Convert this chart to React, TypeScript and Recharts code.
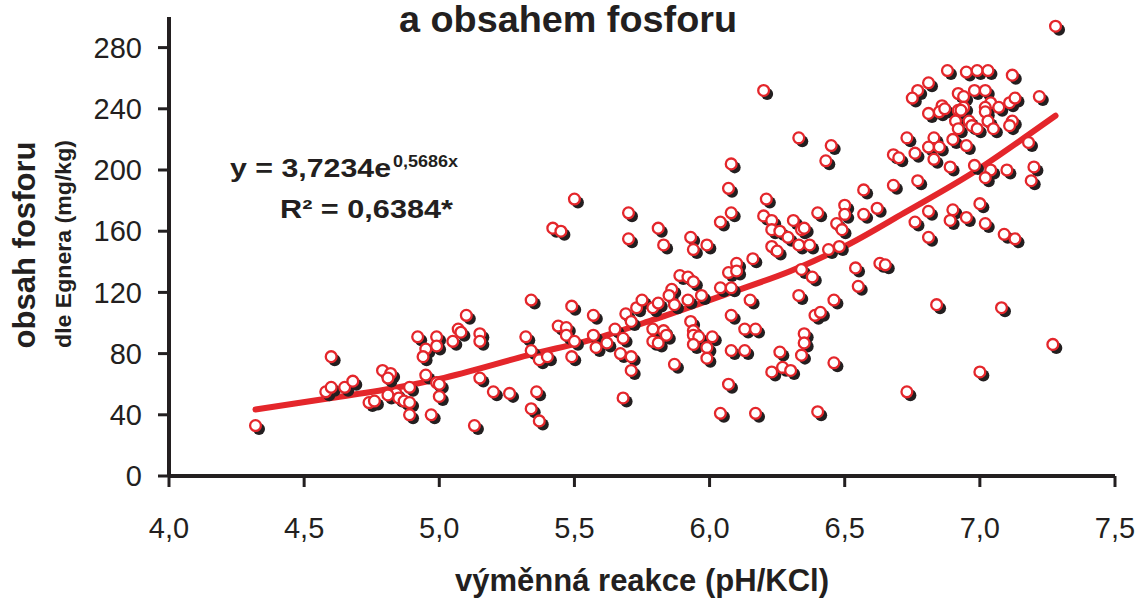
import { ComposedChart, Line, Scatter, XAxis, YAxis } from "recharts";

// soil samples: [pH/KCl, P mg/kg]
const samplesAcid: [number, number][] = [
  [4.32, 33], [4.6, 78], [4.58, 55], [4.6, 58], [4.65, 58], [4.68, 62], [4.74, 48], [4.76, 49],
  [4.79, 69], [4.82, 67], [4.81, 64], [4.84, 54], [4.81, 53], [4.85, 51], [4.87, 49], [4.89, 48],
  [4.89, 40], [4.89, 58], [4.97, 40], [4.95, 66], [4.92, 91], [4.99, 91], [4.99, 85], [4.95, 83],
  [4.94, 78], [4.99, 61], [5.0, 60], [5.0, 52], [5.05, 88], [5.07, 96], [5.08, 94], [5.1, 105],
  [5.15, 93], [5.15, 88], [5.15, 64], [5.2, 55], [5.26, 54], [5.13, 33],
];

const samplesMid: [number, number][] = [
  [5.34, 115], [5.49, 111], [5.57, 105], [5.69, 106], [5.73, 110], [5.79, 110], [5.81, 113], [5.87, 112],
  [5.92, 115], [6.15, 115], [6.08, 105], [5.93, 101], [6.39, 105], [6.41, 107], [5.75, 115], [5.97, 118],
  [5.5, 181], [5.42, 162], [5.45, 160], [5.7, 172], [5.7, 155], [5.81, 162], [5.83, 151], [5.93, 156],
  [5.94, 148], [5.99, 151], [6.04, 166], [6.08, 172], [6.07, 188], [6.08, 204], [6.21, 181], [6.2, 170],
  [6.23, 167], [6.23, 161], [6.26, 160], [6.29, 156], [6.31, 167], [6.34, 161], [6.35, 162], [6.33, 151],
  [6.37, 151], [6.23, 150], [6.25, 147], [6.4, 172], [6.43, 206], [6.47, 165], [6.49, 161], [6.5, 177],
  [6.44, 148], [6.48, 150], [6.16, 142], [6.1, 139], [6.07, 133], [6.1, 134], [6.04, 123], [6.08, 123],
  [6.33, 118], [6.34, 135], [6.38, 130], [6.46, 115], [5.89, 131], [5.92, 130], [5.94, 127], [5.86, 122],
  [5.85, 118], [5.44, 98], [5.47, 97], [5.47, 92], [5.32, 91], [5.34, 82], [5.37, 76], [5.4, 78],
  [5.5, 88], [5.49, 78], [5.57, 92], [5.58, 84], [5.62, 87], [5.65, 96], [5.68, 90], [5.67, 80],
  [5.71, 78], [5.71, 69], [5.71, 101], [5.79, 96], [5.83, 95], [5.84, 92], [5.79, 88], [5.81, 87],
  [5.87, 73], [5.94, 95], [5.94, 92], [5.96, 91], [5.94, 86], [5.99, 84], [6.01, 91], [5.99, 77],
  [6.13, 96], [6.17, 96], [6.08, 82], [6.13, 82], [6.07, 60], [6.26, 81], [6.35, 93], [6.35, 87],
  [6.34, 79], [6.23, 68], [6.27, 71], [6.3, 69], [6.46, 74], [5.36, 55], [5.34, 44], [5.37, 36],
  [5.68, 51], [6.04, 41], [6.17, 41], [6.4, 42], [6.2, 252], [6.33, 221], [6.45, 216],
];

const samplesNeutral: [number, number][] = [
  [7.28, 294], [6.88, 265], [6.95, 264], [6.99, 265], [7.03, 265], [7.12, 262], [6.81, 257], [6.77, 252],
  [6.75, 247], [6.92, 250], [6.94, 248], [6.98, 252], [7.02, 252], [7.22, 248], [7.04, 244], [7.07, 241],
  [7.11, 244], [7.13, 247], [6.86, 242], [6.85, 238], [6.87, 240], [6.81, 237], [6.92, 239], [6.94, 241],
  [6.93, 239], [7.02, 241], [7.02, 238], [6.91, 232], [6.96, 232], [7.03, 232], [7.12, 232], [7.11, 229],
  [6.92, 227], [6.97, 229], [6.99, 227], [7.05, 227], [6.9, 220], [6.95, 216], [6.73, 221], [6.83, 221],
  [6.81, 215], [6.85, 215], [6.83, 207], [6.76, 211], [6.68, 210], [6.7, 208], [6.89, 202], [6.98, 203],
  [7.04, 200], [7.02, 195], [7.1, 200], [7.2, 202], [7.19, 193], [7.18, 218], [6.77, 193], [6.68, 190],
  [6.57, 187], [6.5, 171], [6.57, 171], [6.62, 175], [6.81, 173], [6.76, 166], [6.9, 174], [6.89, 167],
  [6.95, 169], [7.0, 178], [7.02, 165], [6.81, 156], [7.09, 158], [7.13, 155], [6.54, 136], [6.63, 139],
  [6.65, 138], [6.55, 124], [6.84, 112], [7.08, 110], [7.27, 86], [7.0, 68], [6.73, 55],
];

// exponential trendline, sampled off the drawn curve
const trendPh = [4.32, 4.6, 4.85, 5.0, 5.33, 5.6, 5.79, 6.08, 6.3, 6.51, 6.72, 6.99, 7.18, 7.28];
const trendP = [43.5, 51, 58, 63.5, 79, 91, 102, 120, 134, 151, 172, 200, 223, 235.5];

const xTicks = [4, 4.5, 5, 5.5, 6, 6.5, 7, 7.5];
const yTicks = [0, 40, 80, 120, 160, 200, 240, 280];

const INK = "#231f20";
const RED = "#e4262b";
const FONT = "'Liberation Sans', Arial, Helvetica, sans-serif";

const points = [...samplesAcid, ...samplesMid, ...samplesNeutral].map(([x, y]) => ({ x, y }));
const trend = trendPh.map((x, i) => ({ x, y: trendP[i] }));

function ShadowDot(props: any) {
  return <circle cx={props.cx + 3.5} cy={props.cy + 3.5} r={6} fill={INK} />;
}

function MarkerDot(props: any) {
  return <circle cx={props.cx} cy={props.cy} r={5.4} fill="#fff" stroke={RED} strokeWidth={2.3} />;
}

export default function App() {
  return (
    <div style={{ position: "absolute", left: 0, top: 0, width: 1140, height: 599, background: "#fff" }}>
      <ComposedChart width={1140} height={599} data={points} margin={{ top: 17, right: 25, bottom: 0, left: 0 }}>
        <XAxis
          type="number"
          dataKey="x"
          domain={[4, 7.5]}
          ticks={xTicks}
          height={123}
          tickSize={11}
          tickMargin={30}
          axisLine={{ stroke: INK, strokeWidth: 4 }}
          tickLine={{ stroke: INK, strokeWidth: 3 }}
          tick={{ fontSize: 29, fill: INK, fontFamily: FONT }}
          tickFormatter={(v: number) => v.toFixed(1).replace(".", ",")}
        />
        <YAxis
          type="number"
          dataKey="y"
          domain={[0, 300]}
          ticks={yTicks}
          width={169}
          tickSize={11}
          tickMargin={16}
          axisLine={{ stroke: INK, strokeWidth: 4 }}
          tickLine={{ stroke: INK, strokeWidth: 3 }}
          tick={{ fontSize: 29, fill: INK, fontFamily: FONT }}
        />
        <Scatter data={points} dataKey="y" shape={ShadowDot} isAnimationActive={false} />
        <Scatter data={points} dataKey="y" shape={MarkerDot} isAnimationActive={false} />
        <Line
          data={trend}
          dataKey="y"
          type="monotone"
          stroke={RED}
          strokeWidth={6}
          strokeLinecap="round"
          dot={false}
          activeDot={false}
          isAnimationActive={false}
        />
      </ComposedChart>
      <svg
        width={1140}
        height={599}
        style={{ position: "absolute", left: 0, top: 0, pointerEvents: "none" }}
        fontFamily={FONT}
        fill={INK}
        fontWeight="bold"
      >
        <text x={399} y={32} fontSize={36} textLength={338} lengthAdjust="spacingAndGlyphs">
          a obsahem fosforu
        </text>
        <text transform="translate(35,245) rotate(-90)" textAnchor="middle" fontSize={31} textLength={207} lengthAdjust="spacingAndGlyphs">
          obsah fosforu
        </text>
        <text transform="translate(71,244) rotate(-90)" textAnchor="middle" fontSize={22} textLength={208} lengthAdjust="spacingAndGlyphs">
          dle Egnera (mg/kg)
        </text>
        <text x={455} y={591} fontSize={31} textLength={374} lengthAdjust="spacingAndGlyphs">
          výměnná reakce (pH/KCl)
        </text>
        <text x={230} y={177} fontSize={26} textLength={161} lengthAdjust="spacingAndGlyphs">
          y = 3,7234e
        </text>
        <text x={393} y={167} fontSize={16} textLength={65} lengthAdjust="spacingAndGlyphs">
          0,5686x
        </text>
        <text x={280} y={218} fontSize={26} textLength={173} lengthAdjust="spacingAndGlyphs">
          R² = 0,6384*
        </text>
      </svg>
    </div>
  );
}
